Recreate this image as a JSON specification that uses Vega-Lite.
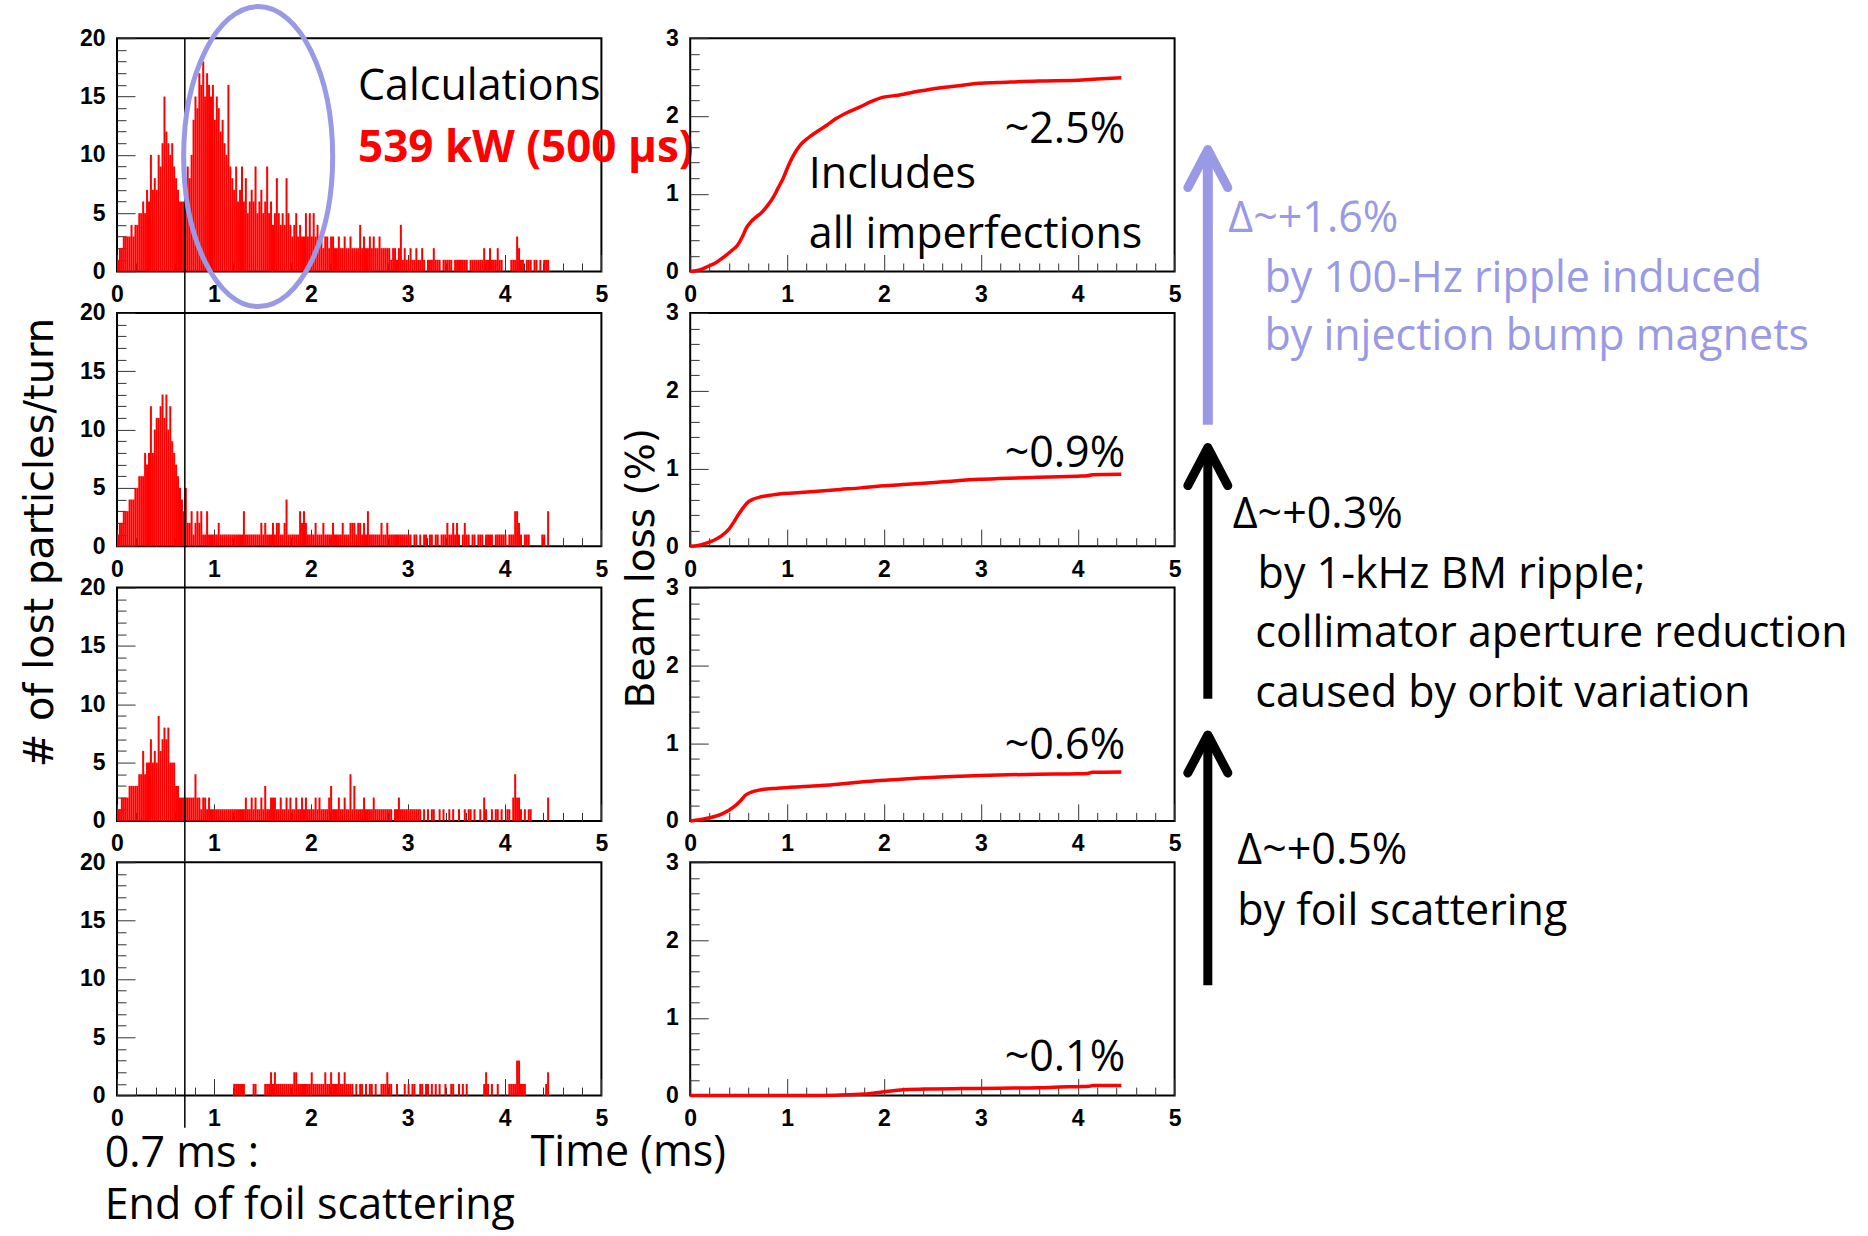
{
"$schema":"https://vega.github.io/schema/vega-lite/v6.json",
"usermeta":{"embedOptions":{"actions":false}},
"background":"white",
"padding":{"left":19,"top":-4.8,"right":0,"bottom":12},
"autosize":{"type":"pad"},
"config":{
 "view":{"stroke":"black","strokeWidth":2},
 "font":"Open Sans",
 "axis":{"domain":false,"grid":false,"ticks":true,"tickColor":"#333333","tickWidth":1,"labelFont":"Liberation Sans","labelFontWeight":"bold","labelFontSize":23,"labelColor":"black","labelFlush":false,"labelOverlap":false,"labelBound":false,"titleFontWeight":"normal","titleColor":"black"}
},
"datasets":{
"h1":[{"t":0.01,"n":1},{"t":0.03,"n":2},{"t":0.05,"n":2},{"t":0.07,"n":3},{"t":0.09,"n":3},{"t":0.11,"n":3},{"t":0.13,"n":3},{"t":0.15,"n":4},{"t":0.17,"n":3},{"t":0.19,"n":4},{"t":0.21,"n":4},{"t":0.23,"n":5},{"t":0.25,"n":5},{"t":0.27,"n":6},{"t":0.29,"n":5},{"t":0.31,"n":7},{"t":0.33,"n":6},{"t":0.35,"n":10},{"t":0.37,"n":7},{"t":0.39,"n":8},{"t":0.41,"n":7},{"t":0.43,"n":10},{"t":0.45,"n":9},{"t":0.47,"n":11},{"t":0.49,"n":15},{"t":0.51,"n":12},{"t":0.53,"n":11},{"t":0.55,"n":10},{"t":0.57,"n":11},{"t":0.59,"n":9},{"t":0.61,"n":8},{"t":0.63,"n":7},{"t":0.65,"n":6},{"t":0.67,"n":6},{"t":0.69,"n":6},{"t":0.71,"n":7},{"t":0.73,"n":9},{"t":0.75,"n":8},{"t":0.77,"n":10},{"t":0.79,"n":13},{"t":0.81,"n":15},{"t":0.83,"n":14},{"t":0.85,"n":17},{"t":0.87,"n":16},{"t":0.89,"n":18},{"t":0.91,"n":15},{"t":0.93,"n":17},{"t":0.95,"n":16},{"t":0.97,"n":15},{"t":0.99,"n":16},{"t":1.01,"n":13},{"t":1.03,"n":15},{"t":1.05,"n":14},{"t":1.07,"n":12},{"t":1.09,"n":13},{"t":1.11,"n":11},{"t":1.13,"n":10},{"t":1.15,"n":16},{"t":1.17,"n":9},{"t":1.19,"n":8},{"t":1.21,"n":7},{"t":1.23,"n":9},{"t":1.25,"n":6},{"t":1.27,"n":7},{"t":1.29,"n":9},{"t":1.31,"n":6},{"t":1.33,"n":8},{"t":1.35,"n":5},{"t":1.37,"n":6},{"t":1.39,"n":7},{"t":1.41,"n":6},{"t":1.43,"n":9},{"t":1.45,"n":5},{"t":1.47,"n":6},{"t":1.49,"n":7},{"t":1.51,"n":5},{"t":1.53,"n":6},{"t":1.55,"n":9},{"t":1.57,"n":5},{"t":1.59,"n":6},{"t":1.61,"n":4},{"t":1.63,"n":5},{"t":1.65,"n":8},{"t":1.67,"n":5},{"t":1.69,"n":4},{"t":1.71,"n":5},{"t":1.73,"n":4},{"t":1.75,"n":8},{"t":1.77,"n":5},{"t":1.79,"n":4},{"t":1.81,"n":3},{"t":1.83,"n":4},{"t":1.85,"n":5},{"t":1.87,"n":3},{"t":1.89,"n":4},{"t":1.91,"n":3},{"t":1.93,"n":3},{"t":1.95,"n":5},{"t":1.97,"n":3},{"t":1.99,"n":5},{"t":2.01,"n":3},{"t":2.03,"n":5},{"t":2.05,"n":3},{"t":2.07,"n":4},{"t":2.09,"n":3},{"t":2.11,"n":3},{"t":2.13,"n":2},{"t":2.15,"n":3},{"t":2.17,"n":3},{"t":2.19,"n":2},{"t":2.21,"n":3},{"t":2.23,"n":3},{"t":2.25,"n":2},{"t":2.27,"n":2},{"t":2.29,"n":3},{"t":2.31,"n":2},{"t":2.33,"n":2},{"t":2.35,"n":3},{"t":2.37,"n":2},{"t":2.39,"n":2},{"t":2.41,"n":3},{"t":2.43,"n":2},{"t":2.45,"n":2},{"t":2.47,"n":2},{"t":2.49,"n":2},{"t":2.51,"n":4},{"t":2.53,"n":2},{"t":2.55,"n":3},{"t":2.57,"n":2},{"t":2.59,"n":2},{"t":2.61,"n":3},{"t":2.63,"n":2},{"t":2.65,"n":3},{"t":2.67,"n":2},{"t":2.69,"n":2},{"t":2.71,"n":3},{"t":2.73,"n":2},{"t":2.75,"n":2},{"t":2.77,"n":2},{"t":2.79,"n":2},{"t":2.81,"n":2},{"t":2.83,"n":1},{"t":2.85,"n":2},{"t":2.87,"n":2},{"t":2.89,"n":1},{"t":2.91,"n":2},{"t":2.93,"n":4},{"t":2.95,"n":1},{"t":2.97,"n":2},{"t":2.99,"n":1},{"t":3.01,"n":1},{"t":3.03,"n":2},{"t":3.05,"n":1},{"t":3.07,"n":1},{"t":3.09,"n":2},{"t":3.11,"n":1},{"t":3.13,"n":1},{"t":3.15,"n":2},{"t":3.17,"n":1},{"t":3.21,"n":1},{"t":3.23,"n":1},{"t":3.25,"n":1},{"t":3.27,"n":2},{"t":3.29,"n":1},{"t":3.31,"n":1},{"t":3.33,"n":1},{"t":3.37,"n":1},{"t":3.39,"n":1},{"t":3.41,"n":1},{"t":3.43,"n":1},{"t":3.45,"n":1},{"t":3.49,"n":1},{"t":3.51,"n":1},{"t":3.53,"n":1},{"t":3.55,"n":1},{"t":3.57,"n":1},{"t":3.59,"n":1},{"t":3.61,"n":1},{"t":3.65,"n":1},{"t":3.67,"n":1},{"t":3.69,"n":1},{"t":3.71,"n":1},{"t":3.73,"n":1},{"t":3.75,"n":1},{"t":3.77,"n":1},{"t":3.79,"n":2},{"t":3.81,"n":1},{"t":3.83,"n":1},{"t":3.85,"n":2},{"t":3.87,"n":1},{"t":3.89,"n":1},{"t":3.91,"n":1},{"t":3.93,"n":2},{"t":3.95,"n":1},{"t":3.97,"n":1},{"t":4.07,"n":1},{"t":4.09,"n":1},{"t":4.11,"n":1},{"t":4.13,"n":3},{"t":4.15,"n":2},{"t":4.17,"n":1},{"t":4.19,"n":1},{"t":4.23,"n":1},{"t":4.25,"n":1},{"t":4.27,"n":1},{"t":4.31,"n":1},{"t":4.33,"n":1},{"t":4.37,"n":1},{"t":4.41,"n":1},{"t":4.43,"n":1},{"t":4.45,"n":1}],
"h2":[{"t":0.01,"n":1},{"t":0.03,"n":2},{"t":0.05,"n":2},{"t":0.07,"n":3},{"t":0.09,"n":3},{"t":0.11,"n":3},{"t":0.13,"n":4},{"t":0.15,"n":4},{"t":0.17,"n":4},{"t":0.19,"n":5},{"t":0.21,"n":5},{"t":0.23,"n":6},{"t":0.25,"n":6},{"t":0.27,"n":6},{"t":0.29,"n":8},{"t":0.31,"n":7},{"t":0.33,"n":8},{"t":0.35,"n":12},{"t":0.37,"n":8},{"t":0.39,"n":10},{"t":0.41,"n":11},{"t":0.43,"n":11},{"t":0.45,"n":12},{"t":0.47,"n":13},{"t":0.49,"n":11},{"t":0.51,"n":13},{"t":0.53,"n":10},{"t":0.55,"n":12},{"t":0.57,"n":9},{"t":0.59,"n":8},{"t":0.61,"n":7},{"t":0.63,"n":6},{"t":0.65,"n":5},{"t":0.67,"n":4},{"t":0.69,"n":3},{"t":0.71,"n":5},{"t":0.73,"n":2},{"t":0.75,"n":2},{"t":0.77,"n":3},{"t":0.79,"n":1},{"t":0.81,"n":2},{"t":0.83,"n":3},{"t":0.85,"n":2},{"t":0.87,"n":3},{"t":0.89,"n":1},{"t":0.91,"n":1},{"t":0.93,"n":3},{"t":0.95,"n":1},{"t":0.97,"n":1},{"t":0.99,"n":1},{"t":1.01,"n":1},{"t":1.03,"n":1},{"t":1.05,"n":2},{"t":1.07,"n":1},{"t":1.09,"n":1},{"t":1.11,"n":1},{"t":1.13,"n":1},{"t":1.15,"n":1},{"t":1.17,"n":1},{"t":1.19,"n":1},{"t":1.21,"n":1},{"t":1.23,"n":1},{"t":1.25,"n":1},{"t":1.27,"n":1},{"t":1.29,"n":1},{"t":1.31,"n":3},{"t":1.33,"n":1},{"t":1.35,"n":1},{"t":1.37,"n":1},{"t":1.39,"n":1},{"t":1.41,"n":1},{"t":1.43,"n":1},{"t":1.45,"n":1},{"t":1.47,"n":1},{"t":1.49,"n":2},{"t":1.51,"n":1},{"t":1.53,"n":2},{"t":1.55,"n":1},{"t":1.57,"n":1},{"t":1.59,"n":1},{"t":1.61,"n":2},{"t":1.63,"n":1},{"t":1.65,"n":2},{"t":1.67,"n":2},{"t":1.69,"n":1},{"t":1.71,"n":1},{"t":1.73,"n":2},{"t":1.75,"n":4},{"t":1.77,"n":1},{"t":1.79,"n":1},{"t":1.81,"n":1},{"t":1.83,"n":1},{"t":1.85,"n":1},{"t":1.87,"n":1},{"t":1.89,"n":3},{"t":1.91,"n":2},{"t":1.93,"n":3},{"t":1.95,"n":2},{"t":1.97,"n":1},{"t":1.99,"n":1},{"t":2.01,"n":1},{"t":2.03,"n":1},{"t":2.05,"n":2},{"t":2.07,"n":1},{"t":2.09,"n":1},{"t":2.11,"n":1},{"t":2.13,"n":2},{"t":2.15,"n":1},{"t":2.17,"n":1},{"t":2.19,"n":1},{"t":2.21,"n":1},{"t":2.23,"n":2},{"t":2.25,"n":1},{"t":2.27,"n":1},{"t":2.29,"n":1},{"t":2.31,"n":1},{"t":2.33,"n":2},{"t":2.35,"n":1},{"t":2.37,"n":1},{"t":2.39,"n":1},{"t":2.41,"n":2},{"t":2.43,"n":2},{"t":2.45,"n":2},{"t":2.47,"n":1},{"t":2.49,"n":2},{"t":2.51,"n":2},{"t":2.53,"n":1},{"t":2.55,"n":2},{"t":2.57,"n":1},{"t":2.59,"n":3},{"t":2.61,"n":1},{"t":2.63,"n":1},{"t":2.65,"n":1},{"t":2.67,"n":1},{"t":2.69,"n":1},{"t":2.71,"n":1},{"t":2.73,"n":2},{"t":2.75,"n":1},{"t":2.77,"n":1},{"t":2.79,"n":2},{"t":2.81,"n":1},{"t":2.83,"n":1},{"t":2.85,"n":1},{"t":2.87,"n":1},{"t":2.89,"n":1},{"t":2.91,"n":1},{"t":2.93,"n":1},{"t":2.95,"n":1},{"t":2.97,"n":1},{"t":2.99,"n":1},{"t":3.01,"n":1},{"t":3.03,"n":1},{"t":3.07,"n":1},{"t":3.09,"n":1},{"t":3.13,"n":1},{"t":3.17,"n":1},{"t":3.19,"n":1},{"t":3.23,"n":1},{"t":3.25,"n":1},{"t":3.29,"n":1},{"t":3.31,"n":1},{"t":3.35,"n":1},{"t":3.37,"n":1},{"t":3.39,"n":1},{"t":3.41,"n":2},{"t":3.43,"n":1},{"t":3.45,"n":1},{"t":3.47,"n":2},{"t":3.49,"n":1},{"t":3.51,"n":2},{"t":3.53,"n":1},{"t":3.57,"n":1},{"t":3.59,"n":2},{"t":3.61,"n":1},{"t":3.63,"n":1},{"t":3.67,"n":1},{"t":3.69,"n":1},{"t":3.73,"n":1},{"t":3.75,"n":1},{"t":3.77,"n":1},{"t":3.81,"n":1},{"t":3.83,"n":1},{"t":3.85,"n":1},{"t":3.87,"n":1},{"t":3.91,"n":1},{"t":3.93,"n":1},{"t":3.95,"n":1},{"t":3.97,"n":1},{"t":3.99,"n":1},{"t":4.01,"n":1},{"t":4.05,"n":1},{"t":4.07,"n":1},{"t":4.09,"n":1},{"t":4.11,"n":3},{"t":4.13,"n":3},{"t":4.15,"n":2},{"t":4.17,"n":1},{"t":4.21,"n":1},{"t":4.23,"n":1},{"t":4.25,"n":1},{"t":4.39,"n":1},{"t":4.41,"n":1},{"t":4.45,"n":3}],
"h3":[{"t":0.01,"n":1},{"t":0.03,"n":1},{"t":0.05,"n":2},{"t":0.07,"n":2},{"t":0.09,"n":2},{"t":0.11,"n":2},{"t":0.13,"n":3},{"t":0.15,"n":3},{"t":0.17,"n":3},{"t":0.19,"n":3},{"t":0.21,"n":3},{"t":0.23,"n":4},{"t":0.25,"n":4},{"t":0.27,"n":6},{"t":0.29,"n":4},{"t":0.31,"n":5},{"t":0.33,"n":5},{"t":0.35,"n":7},{"t":0.37,"n":5},{"t":0.39,"n":6},{"t":0.41,"n":5},{"t":0.43,"n":9},{"t":0.45,"n":6},{"t":0.47,"n":7},{"t":0.49,"n":8},{"t":0.51,"n":7},{"t":0.53,"n":8},{"t":0.55,"n":5},{"t":0.57,"n":5},{"t":0.59,"n":5},{"t":0.61,"n":3},{"t":0.63,"n":3},{"t":0.65,"n":2},{"t":0.67,"n":2},{"t":0.69,"n":2},{"t":0.71,"n":2},{"t":0.73,"n":2},{"t":0.75,"n":2},{"t":0.77,"n":2},{"t":0.79,"n":2},{"t":0.81,"n":4},{"t":0.83,"n":2},{"t":0.85,"n":2},{"t":0.87,"n":1},{"t":0.89,"n":2},{"t":0.91,"n":2},{"t":0.93,"n":1},{"t":0.95,"n":2},{"t":0.97,"n":1},{"t":0.99,"n":1},{"t":1.01,"n":1},{"t":1.03,"n":1},{"t":1.05,"n":1},{"t":1.07,"n":1},{"t":1.09,"n":1},{"t":1.11,"n":1},{"t":1.13,"n":1},{"t":1.15,"n":1},{"t":1.17,"n":1},{"t":1.19,"n":1},{"t":1.21,"n":1},{"t":1.23,"n":1},{"t":1.25,"n":1},{"t":1.27,"n":1},{"t":1.29,"n":1},{"t":1.31,"n":1},{"t":1.33,"n":2},{"t":1.35,"n":1},{"t":1.37,"n":1},{"t":1.39,"n":2},{"t":1.41,"n":1},{"t":1.43,"n":2},{"t":1.45,"n":1},{"t":1.47,"n":1},{"t":1.49,"n":2},{"t":1.51,"n":1},{"t":1.53,"n":3},{"t":1.55,"n":1},{"t":1.57,"n":1},{"t":1.59,"n":2},{"t":1.61,"n":2},{"t":1.63,"n":2},{"t":1.65,"n":1},{"t":1.67,"n":1},{"t":1.69,"n":2},{"t":1.71,"n":1},{"t":1.73,"n":1},{"t":1.75,"n":2},{"t":1.77,"n":1},{"t":1.79,"n":2},{"t":1.81,"n":1},{"t":1.83,"n":1},{"t":1.85,"n":2},{"t":1.87,"n":1},{"t":1.89,"n":1},{"t":1.91,"n":2},{"t":1.93,"n":1},{"t":1.95,"n":2},{"t":1.97,"n":1},{"t":1.99,"n":1},{"t":2.01,"n":1},{"t":2.03,"n":1},{"t":2.05,"n":2},{"t":2.07,"n":1},{"t":2.09,"n":2},{"t":2.11,"n":1},{"t":2.13,"n":1},{"t":2.15,"n":1},{"t":2.17,"n":1},{"t":2.19,"n":2},{"t":2.21,"n":3},{"t":2.23,"n":1},{"t":2.25,"n":1},{"t":2.27,"n":1},{"t":2.29,"n":2},{"t":2.31,"n":1},{"t":2.33,"n":1},{"t":2.35,"n":2},{"t":2.37,"n":1},{"t":2.39,"n":1},{"t":2.41,"n":4},{"t":2.43,"n":1},{"t":2.45,"n":3},{"t":2.47,"n":1},{"t":2.49,"n":1},{"t":2.51,"n":1},{"t":2.53,"n":1},{"t":2.55,"n":2},{"t":2.57,"n":1},{"t":2.59,"n":1},{"t":2.61,"n":1},{"t":2.63,"n":1},{"t":2.65,"n":2},{"t":2.67,"n":1},{"t":2.69,"n":1},{"t":2.71,"n":1},{"t":2.73,"n":1},{"t":2.75,"n":1},{"t":2.77,"n":1},{"t":2.79,"n":1},{"t":2.81,"n":1},{"t":2.83,"n":1},{"t":2.87,"n":1},{"t":2.89,"n":1},{"t":2.91,"n":2},{"t":2.93,"n":1},{"t":2.95,"n":1},{"t":2.97,"n":1},{"t":2.99,"n":1},{"t":3.01,"n":1},{"t":3.03,"n":1},{"t":3.05,"n":1},{"t":3.07,"n":1},{"t":3.09,"n":1},{"t":3.11,"n":1},{"t":3.13,"n":1},{"t":3.17,"n":1},{"t":3.21,"n":1},{"t":3.25,"n":1},{"t":3.27,"n":1},{"t":3.33,"n":1},{"t":3.37,"n":1},{"t":3.43,"n":1},{"t":3.47,"n":1},{"t":3.53,"n":1},{"t":3.59,"n":1},{"t":3.63,"n":1},{"t":3.65,"n":1},{"t":3.69,"n":1},{"t":3.75,"n":1},{"t":3.79,"n":2},{"t":3.81,"n":1},{"t":3.87,"n":1},{"t":3.91,"n":1},{"t":3.93,"n":1},{"t":3.97,"n":1},{"t":4.03,"n":1},{"t":4.05,"n":1},{"t":4.09,"n":2},{"t":4.11,"n":4},{"t":4.13,"n":2},{"t":4.15,"n":2},{"t":4.17,"n":1},{"t":4.21,"n":1},{"t":4.25,"n":1},{"t":4.27,"n":1},{"t":4.45,"n":2}],
"h4":[{"t":1.21,"n":1},{"t":1.23,"n":1},{"t":1.25,"n":1},{"t":1.27,"n":1},{"t":1.29,"n":1},{"t":1.31,"n":1},{"t":1.41,"n":1},{"t":1.43,"n":1},{"t":1.53,"n":1},{"t":1.55,"n":1},{"t":1.57,"n":1},{"t":1.59,"n":2},{"t":1.61,"n":1},{"t":1.63,"n":2},{"t":1.65,"n":1},{"t":1.67,"n":1},{"t":1.69,"n":1},{"t":1.71,"n":1},{"t":1.73,"n":1},{"t":1.75,"n":1},{"t":1.77,"n":1},{"t":1.79,"n":1},{"t":1.81,"n":1},{"t":1.83,"n":2},{"t":1.85,"n":2},{"t":1.87,"n":1},{"t":1.89,"n":1},{"t":1.91,"n":1},{"t":1.93,"n":1},{"t":1.95,"n":1},{"t":1.97,"n":1},{"t":1.99,"n":1},{"t":2.01,"n":2},{"t":2.03,"n":1},{"t":2.05,"n":1},{"t":2.07,"n":1},{"t":2.09,"n":1},{"t":2.11,"n":1},{"t":2.13,"n":1},{"t":2.15,"n":2},{"t":2.17,"n":1},{"t":2.19,"n":1},{"t":2.21,"n":2},{"t":2.23,"n":1},{"t":2.25,"n":1},{"t":2.27,"n":1},{"t":2.29,"n":2},{"t":2.31,"n":1},{"t":2.33,"n":1},{"t":2.35,"n":2},{"t":2.37,"n":1},{"t":2.39,"n":1},{"t":2.41,"n":1},{"t":2.43,"n":1},{"t":2.47,"n":1},{"t":2.51,"n":1},{"t":2.53,"n":1},{"t":2.57,"n":1},{"t":2.61,"n":1},{"t":2.63,"n":1},{"t":2.67,"n":1},{"t":2.73,"n":1},{"t":2.75,"n":1},{"t":2.77,"n":1},{"t":2.79,"n":2},{"t":2.81,"n":1},{"t":2.83,"n":1},{"t":2.89,"n":1},{"t":2.97,"n":1},{"t":3.01,"n":1},{"t":3.05,"n":1},{"t":3.07,"n":1},{"t":3.13,"n":1},{"t":3.15,"n":1},{"t":3.19,"n":1},{"t":3.21,"n":1},{"t":3.25,"n":1},{"t":3.29,"n":1},{"t":3.33,"n":1},{"t":3.39,"n":1},{"t":3.45,"n":1},{"t":3.47,"n":1},{"t":3.53,"n":1},{"t":3.57,"n":1},{"t":3.61,"n":1},{"t":3.79,"n":1},{"t":3.81,"n":2},{"t":3.83,"n":1},{"t":3.87,"n":1},{"t":3.93,"n":1},{"t":4.05,"n":1},{"t":4.07,"n":1},{"t":4.09,"n":1},{"t":4.11,"n":1},{"t":4.13,"n":3},{"t":4.15,"n":3},{"t":4.17,"n":1},{"t":4.19,"n":1},{"t":4.21,"n":1},{"t":4.43,"n":1},{"t":4.45,"n":2}],
"c1":[{"t":0,"v":0},{"t":0.1,"v":0.02},{"t":0.18,"v":0.064},{"t":0.26,"v":0.11},{"t":0.33,"v":0.17},{"t":0.42,"v":0.26},{"t":0.49,"v":0.34},{"t":0.54,"v":0.45},{"t":0.58,"v":0.56},{"t":0.62,"v":0.63},{"t":0.67,"v":0.69},{"t":0.73,"v":0.75},{"t":0.8,"v":0.85},{"t":0.86,"v":0.96},{"t":0.91,"v":1.08},{"t":0.96,"v":1.2},{"t":1.01,"v":1.35},{"t":1.06,"v":1.48},{"t":1.14,"v":1.63},{"t":1.22,"v":1.72},{"t":1.31,"v":1.8},{"t":1.41,"v":1.88},{"t":1.51,"v":1.97},{"t":1.63,"v":2.05},{"t":1.76,"v":2.12},{"t":1.86,"v":2.18},{"t":1.96,"v":2.23},{"t":2.16,"v":2.27},{"t":2.37,"v":2.32},{"t":2.57,"v":2.36},{"t":2.78,"v":2.39},{"t":2.98,"v":2.42},{"t":3.18,"v":2.43},{"t":3.59,"v":2.45},{"t":4.0,"v":2.46},{"t":4.2,"v":2.475},{"t":4.45,"v":2.49}],
"c2":[{"t":0,"v":0},{"t":0.08,"v":0.01},{"t":0.16,"v":0.037},{"t":0.25,"v":0.08},{"t":0.33,"v":0.14},{"t":0.4,"v":0.22},{"t":0.45,"v":0.31},{"t":0.5,"v":0.41},{"t":0.55,"v":0.5},{"t":0.6,"v":0.57},{"t":0.66,"v":0.61},{"t":0.73,"v":0.635},{"t":0.85,"v":0.66},{"t":0.94,"v":0.675},{"t":1.14,"v":0.69},{"t":1.35,"v":0.71},{"t":1.55,"v":0.73},{"t":1.76,"v":0.75},{"t":1.96,"v":0.775},{"t":2.17,"v":0.79},{"t":2.37,"v":0.805},{"t":2.58,"v":0.825},{"t":2.78,"v":0.845},{"t":2.98,"v":0.86},{"t":3.18,"v":0.87},{"t":3.59,"v":0.885},{"t":4.0,"v":0.9},{"t":4.1,"v":0.905},{"t":4.15,"v":0.92},{"t":4.45,"v":0.925}],
"c3":[{"t":0,"v":0},{"t":0.1,"v":0.015},{"t":0.2,"v":0.04},{"t":0.33,"v":0.09},{"t":0.45,"v":0.18},{"t":0.52,"v":0.26},{"t":0.57,"v":0.33},{"t":0.63,"v":0.37},{"t":0.73,"v":0.4},{"t":0.9,"v":0.42},{"t":1.14,"v":0.44},{"t":1.35,"v":0.455},{"t":1.55,"v":0.475},{"t":1.76,"v":0.5},{"t":1.96,"v":0.52},{"t":2.17,"v":0.535},{"t":2.37,"v":0.55},{"t":2.58,"v":0.565},{"t":2.78,"v":0.575},{"t":3.0,"v":0.585},{"t":3.18,"v":0.59},{"t":3.59,"v":0.6},{"t":4.0,"v":0.605},{"t":4.1,"v":0.61},{"t":4.15,"v":0.625},{"t":4.45,"v":0.63}],
"c4":[{"t":0,"v":0},{"t":1.2,"v":0},{"t":1.5,"v":0.005},{"t":1.8,"v":0.02},{"t":2.0,"v":0.05},{"t":2.2,"v":0.075},{"t":2.5,"v":0.085},{"t":2.8,"v":0.09},{"t":3.2,"v":0.095},{"t":3.6,"v":0.1},{"t":3.8,"v":0.11},{"t":4.0,"v":0.115},{"t":4.12,"v":0.12},{"t":4.16,"v":0.13},{"t":4.45,"v":0.13}]
},
"columns":2,
"spacing":{"row":40.7,"column":88.2},
"bounds":"flush",
"concat":[
{"width":484.4,"height":233.3,"resolve":{"axis":{"x":"independent","y":"independent"}},"layer":[
 {"data":{"name":"h1"},"mark":{"type":"bar","color":"#ff0000","width":2},
  "encoding":{"x":{"field":"t","type":"quantitative","scale":{"domain":[0,5],"nice":false,"padding":0},"axis":{"orient":"bottom","values":[0,1,2,3,4,5],"format":"d","tickSize":-17,"labelPadding":29,"labelOverlap":false,"labelFlush":false,"title":null}},
   "y":{"field":"n","type":"quantitative","scale":{"domain":[0,20],"nice":false},"axis":{"orient":"left","values":[0,5,10,15,20],"format":"d","tickSize":-18,"labelPadding":30,"labelOverlap":false,"title":null}}}},
 {"data":{"values":[{"t":0.7}]},"mark":{"type":"rule","color":"black","strokeWidth":1.5},
  "encoding":{"x":{"field":"t","type":"quantitative","scale":{"domain":[0,5],"nice":false,"padding":0},"axis":{"orient":"bottom","values":[0.2,0.4,0.6,0.8,1.2,1.4,1.6,1.8,2.2,2.4,2.6,2.8,3.2,3.4,3.6,3.8,4.2,4.4,4.6,4.8],"tickSize":-8.5,"labels":false,"title":null}},"y":{"datum":20,"type":"quantitative","scale":{"domain":[0,20],"nice":false},"axis":{"orient":"left","values":[1,2,3,4,6,7,8,9,11,12,13,14,16,17,18,19],"tickSize":-9,"labels":false,"title":null}},"y2":{"datum":-3.49}}},
 {"data":{"values":[{"t":1.457,"v":9.85}]},"mark":{"type":"point","shape":"M 0 -1 A 0.4967 1 0 1 1 0 1 A 0.4967 1 0 1 1 0 -1 Z","size":90000,"filled":false,"color":"#9999e6","strokeWidth":5,"opacity":1},
  "encoding":{"x":{"field":"t","type":"quantitative","scale":{"domain":[0,5],"nice":false,"padding":0},"axis":null},"y":{"field":"v","type":"quantitative","scale":{"domain":[0,20],"nice":false},"axis":null}}},
 {"data":{"values":[{"t":2.488,"v":14.71,"label":"Calculations"}]},"mark":{"type":"text","fontSize":43,"align":"left","baseline":"alphabetic","color":"black"},
  "encoding":{"x":{"field":"t","type":"quantitative","scale":{"domain":[0,5],"nice":false,"padding":0},"axis":null},"y":{"field":"v","type":"quantitative","scale":{"domain":[0,20],"nice":false},"axis":null},"text":{"field":"label"}}},
 {"data":{"values":[{"t":2.488,"v":9.42,"label":"539 kW (500 µs)"}]},"mark":{"type":"text","fontSize":44,"fontWeight":"bold","align":"left","baseline":"alphabetic","color":"#ff0000"},
  "encoding":{"x":{"field":"t","type":"quantitative","scale":{"domain":[0,5],"nice":false,"padding":0},"axis":null},"y":{"field":"v","type":"quantitative","scale":{"domain":[0,20],"nice":false},"axis":null},"text":{"field":"label"}}}
]},
{"width":484.4,"height":233.3,"resolve":{"axis":{"x":"independent","y":"independent"}},"layer":[
 {"data":{"name":"c1"},"mark":{"type":"line","color":"#ff0000","strokeWidth":3.5,"interpolate":"monotone"},
  "encoding":{"x":{"field":"t","type":"quantitative","scale":{"domain":[0,5],"nice":false},"axis":{"orient":"bottom","values":[0,1,2,3,4,5],"format":"d","tickSize":-17,"labelPadding":29,"labelOverlap":false,"labelFlush":false,"title":null}},
   "y":{"field":"v","type":"quantitative","scale":{"domain":[0,3],"nice":false},"axis":{"orient":"left","values":[0,1,2,3],"format":"d","tickSize":-18,"labelPadding":30,"labelOverlap":false,"title":null}}}},
 {"data":{"values":[{"t":4.49,"v":1.65,"label":"~2.5%"}]},"mark":{"type":"text","fontSize":43,"align":"right","baseline":"alphabetic","color":"black"},
  "encoding":{"x":{"field":"t","type":"quantitative","scale":{"domain":[0,5],"nice":false},"axis":{"orient":"bottom","values":[0.2,0.4,0.6,0.8,1.2,1.4,1.6,1.8,2.2,2.4,2.6,2.8,3.2,3.4,3.6,3.8,4.2,4.4,4.6,4.8],"tickSize":-8.5,"labels":false,"title":null}},"y":{"field":"v","type":"quantitative","scale":{"domain":[0,3],"nice":false},"axis":{"orient":"left","values":[0.2,0.4,0.6,0.8,1.2,1.4,1.6,1.8,2.2,2.4,2.6,2.8],"tickSize":-9,"labels":false,"title":null}},"text":{"field":"label"}}},
 {"data":{"values":[{"t":1.224,"v":1.075,"label":"Includes"},{"t":1.224,"v":0.304,"label":"all imperfections"}]},"mark":{"type":"text","fontSize":43,"align":"left","baseline":"alphabetic","color":"black"},
  "encoding":{"x":{"field":"t","type":"quantitative","scale":{"domain":[0,5],"nice":false},"axis":null},"y":{"field":"v","type":"quantitative","scale":{"domain":[0,3],"nice":false},"axis":null},"text":{"field":"label"}}},
 {"data":{"values":[{"t":5.343,"lo":-1.972,"hi":1.52}]},"mark":{"type":"rule","color":"#9999e6","strokeWidth":10},
  "encoding":{"x":{"field":"t","type":"quantitative","scale":{"domain":[0,5],"nice":false},"axis":null},"y":{"field":"lo","type":"quantitative","scale":{"domain":[0,3],"nice":false},"axis":null},"y2":{"field":"hi"}}},
 {"data":{"values":[{"t":5.343,"v":1.568}]},"mark":{"type":"point","shape":"M -0.526 1 L 0 0 L 0.526 1","size":5776,"filled":false,"color":"#9999e6","strokeWidth":9,"strokeCap":"round","strokeJoin":"round","opacity":1},
  "encoding":{"x":{"field":"t","type":"quantitative","scale":{"domain":[0,5],"nice":false},"axis":null},"y":{"field":"v","type":"quantitative","scale":{"domain":[0,3],"nice":false},"axis":null}}},
 {"data":{"values":[{"t":5.554,"v":0.513,"label":"Δ~+1.6%"},{"t":5.927,"v":-0.258,"label":"by 100-Hz ripple induced"},{"t":5.927,"v":-1.008,"label":"by injection bump magnets"}]},"mark":{"type":"text","fontSize":43,"align":"left","baseline":"alphabetic","color":"#9999e6"},
  "encoding":{"x":{"field":"t","type":"quantitative","scale":{"domain":[0,5],"nice":false},"axis":null},"y":{"field":"v","type":"quantitative","scale":{"domain":[0,3],"nice":false},"axis":null},"text":{"field":"label"}}}
]},
{"width":484.4,"height":233.3,"resolve":{"axis":{"x":"independent","y":"independent"}},"layer":[
 {"data":{"name":"h2"},"mark":{"type":"bar","color":"#ff0000","width":2},
  "encoding":{"x":{"field":"t","type":"quantitative","scale":{"domain":[0,5],"nice":false,"padding":0},"axis":{"orient":"bottom","values":[0,1,2,3,4,5],"format":"d","tickSize":-17,"labelPadding":29,"labelOverlap":false,"labelFlush":false,"title":null}},
   "y":{"field":"n","type":"quantitative","scale":{"domain":[0,20],"nice":false},"axis":{"orient":"left","values":[0,5,10,15,20],"format":"d","tickSize":-18,"labelPadding":30,"labelOverlap":false,"title":"# of lost particles/turn","titleFont":"DejaVu Sans","titleFontSize":40,"titleAngle":270,"titleAlign":"center","titleBaseline":"alphabetic","titleX":-64.3,"titleY":229.2}}}},
 {"data":{"values":[{"t":0.7}]},"mark":{"type":"rule","color":"black","strokeWidth":1.5},
  "encoding":{"x":{"field":"t","type":"quantitative","scale":{"domain":[0,5],"nice":false,"padding":0},"axis":{"orient":"bottom","values":[0.2,0.4,0.6,0.8,1.2,1.4,1.6,1.8,2.2,2.4,2.6,2.8,3.2,3.4,3.6,3.8,4.2,4.4,4.6,4.8],"tickSize":-8.5,"labels":false,"title":null}},"y":{"datum":20,"type":"quantitative","scale":{"domain":[0,20],"nice":false},"axis":{"orient":"left","values":[1,2,3,4,6,7,8,9,11,12,13,14,16,17,18,19],"tickSize":-9,"labels":false,"title":null}},"y2":{"datum":-3.49}}}
]},
{"width":484.4,"height":233.3,"resolve":{"axis":{"x":"independent","y":"independent"}},"layer":[
 {"data":{"name":"c2"},"mark":{"type":"line","color":"#ff0000","strokeWidth":3.5,"interpolate":"monotone"},
  "encoding":{"x":{"field":"t","type":"quantitative","scale":{"domain":[0,5],"nice":false},"axis":{"orient":"bottom","values":[0,1,2,3,4,5],"format":"d","tickSize":-17,"labelPadding":29,"labelOverlap":false,"labelFlush":false,"title":null}},
   "y":{"field":"v","type":"quantitative","scale":{"domain":[0,3],"nice":false},"axis":{"orient":"left","values":[0,1,2,3],"format":"d","tickSize":-18,"labelPadding":30,"labelOverlap":false,"title":"Beam loss (%)","titleFont":"DejaVu Sans","titleFontSize":39,"titleAngle":270,"titleAlign":"center","titleBaseline":"alphabetic","titleX":-36.4,"titleY":254.7}}}},
 {"data":{"values":[{"t":4.49,"v":1.02,"label":"~0.9%"}]},"mark":{"type":"text","fontSize":43,"align":"right","baseline":"alphabetic","color":"black"},
  "encoding":{"x":{"field":"t","type":"quantitative","scale":{"domain":[0,5],"nice":false},"axis":{"orient":"bottom","values":[0.2,0.4,0.6,0.8,1.2,1.4,1.6,1.8,2.2,2.4,2.6,2.8,3.2,3.4,3.6,3.8,4.2,4.4,4.6,4.8],"tickSize":-8.5,"labels":false,"title":null}},"y":{"field":"v","type":"quantitative","scale":{"domain":[0,3],"nice":false},"axis":{"orient":"left","values":[0.2,0.4,0.6,0.8,1.2,1.4,1.6,1.8,2.2,2.4,2.6,2.8],"tickSize":-9,"labels":false,"title":null}},"text":{"field":"label"}}},
 {"data":{"values":[{"t":5.343,"lo":-1.963,"hi":1.22}]},"mark":{"type":"rule","color":"black","strokeWidth":9},
  "encoding":{"x":{"field":"t","type":"quantitative","scale":{"domain":[0,5],"nice":false},"axis":null},"y":{"field":"lo","type":"quantitative","scale":{"domain":[0,3],"nice":false},"axis":null},"y2":{"field":"hi"}}},
 {"data":{"values":[{"t":5.343,"v":1.268}]},"mark":{"type":"point","shape":"M -0.526 1 L 0 0 L 0.526 1","size":5776,"filled":false,"color":"black","strokeWidth":9,"strokeCap":"round","strokeJoin":"round","opacity":1},
  "encoding":{"x":{"field":"t","type":"quantitative","scale":{"domain":[0,5],"nice":false},"axis":null},"y":{"field":"v","type":"quantitative","scale":{"domain":[0,3],"nice":false},"axis":null}}},
 {"data":{"values":[{"t":5.6,"v":0.239,"label":"Δ~+0.3%"},{"t":5.857,"v":-0.536,"label":"by 1-kHz BM ripple;"},{"t":5.833,"v":-1.29,"label":"collimator aperture reduction"},{"t":5.833,"v":-2.07,"label":"caused by orbit variation"}]},"mark":{"type":"text","fontSize":43,"align":"left","baseline":"alphabetic","color":"black"},
  "encoding":{"x":{"field":"t","type":"quantitative","scale":{"domain":[0,5],"nice":false},"axis":null},"y":{"field":"v","type":"quantitative","scale":{"domain":[0,3],"nice":false},"axis":null},"text":{"field":"label"}}}
]},
{"width":484.4,"height":233.3,"resolve":{"axis":{"x":"independent","y":"independent"}},"layer":[
 {"data":{"name":"h3"},"mark":{"type":"bar","color":"#ff0000","width":2},
  "encoding":{"x":{"field":"t","type":"quantitative","scale":{"domain":[0,5],"nice":false,"padding":0},"axis":{"orient":"bottom","values":[0,1,2,3,4,5],"format":"d","tickSize":-17,"labelPadding":29,"labelOverlap":false,"labelFlush":false,"title":null}},
   "y":{"field":"n","type":"quantitative","scale":{"domain":[0,20],"nice":false},"axis":{"orient":"left","values":[0,5,10,15,20],"format":"d","tickSize":-18,"labelPadding":30,"labelOverlap":false,"title":null}}}},
 {"data":{"values":[{"t":0.7}]},"mark":{"type":"rule","color":"black","strokeWidth":1.5},
  "encoding":{"x":{"field":"t","type":"quantitative","scale":{"domain":[0,5],"nice":false,"padding":0},"axis":{"orient":"bottom","values":[0.2,0.4,0.6,0.8,1.2,1.4,1.6,1.8,2.2,2.4,2.6,2.8,3.2,3.4,3.6,3.8,4.2,4.4,4.6,4.8],"tickSize":-8.5,"labels":false,"title":null}},"y":{"datum":20,"type":"quantitative","scale":{"domain":[0,20],"nice":false},"axis":{"orient":"left","values":[1,2,3,4,6,7,8,9,11,12,13,14,16,17,18,19],"tickSize":-9,"labels":false,"title":null}},"y2":{"datum":-3.49}}}
]},
{"width":484.4,"height":233.3,"resolve":{"axis":{"x":"independent","y":"independent"}},"layer":[
 {"data":{"name":"c3"},"mark":{"type":"line","color":"#ff0000","strokeWidth":3.5,"interpolate":"monotone"},
  "encoding":{"x":{"field":"t","type":"quantitative","scale":{"domain":[0,5],"nice":false},"axis":{"orient":"bottom","values":[0,1,2,3,4,5],"format":"d","tickSize":-17,"labelPadding":29,"labelOverlap":false,"labelFlush":false,"title":null}},
   "y":{"field":"v","type":"quantitative","scale":{"domain":[0,3],"nice":false},"axis":{"orient":"left","values":[0,1,2,3],"format":"d","tickSize":-18,"labelPadding":30,"labelOverlap":false,"title":null}}}},
 {"data":{"values":[{"t":4.49,"v":0.8,"label":"~0.6%"}]},"mark":{"type":"text","fontSize":43,"align":"right","baseline":"alphabetic","color":"black"},
  "encoding":{"x":{"field":"t","type":"quantitative","scale":{"domain":[0,5],"nice":false},"axis":{"orient":"bottom","values":[0.2,0.4,0.6,0.8,1.2,1.4,1.6,1.8,2.2,2.4,2.6,2.8,3.2,3.4,3.6,3.8,4.2,4.4,4.6,4.8],"tickSize":-8.5,"labels":false,"title":null}},"y":{"field":"v","type":"quantitative","scale":{"domain":[0,3],"nice":false},"axis":{"orient":"left","values":[0.2,0.4,0.6,0.8,1.2,1.4,1.6,1.8,2.2,2.4,2.6,2.8],"tickSize":-9,"labels":false,"title":null}},"text":{"field":"label"}}},
 {"data":{"values":[{"t":5.343,"lo":-2.114,"hi":1.05}]},"mark":{"type":"rule","color":"black","strokeWidth":9},
  "encoding":{"x":{"field":"t","type":"quantitative","scale":{"domain":[0,5],"nice":false},"axis":null},"y":{"field":"lo","type":"quantitative","scale":{"domain":[0,3],"nice":false},"axis":null},"y2":{"field":"hi"}}},
 {"data":{"values":[{"t":5.343,"v":1.105}]},"mark":{"type":"point","shape":"M -0.526 1 L 0 0 L 0.526 1","size":5776,"filled":false,"color":"black","strokeWidth":9,"strokeCap":"round","strokeJoin":"round","opacity":1},
  "encoding":{"x":{"field":"t","type":"quantitative","scale":{"domain":[0,5],"nice":false},"axis":null},"y":{"field":"v","type":"quantitative","scale":{"domain":[0,3],"nice":false},"axis":null}}},
 {"data":{"values":[{"t":5.647,"v":-0.549,"label":"Δ~+0.5%"},{"t":5.647,"v":-1.342,"label":"by foil scattering"}]},"mark":{"type":"text","fontSize":43,"align":"left","baseline":"alphabetic","color":"black"},
  "encoding":{"x":{"field":"t","type":"quantitative","scale":{"domain":[0,5],"nice":false},"axis":null},"y":{"field":"v","type":"quantitative","scale":{"domain":[0,3],"nice":false},"axis":null},"text":{"field":"label"}}}
]},
{"width":484.4,"height":233.3,"resolve":{"axis":{"x":"independent","y":"independent"}},"layer":[
 {"data":{"name":"h4"},"mark":{"type":"bar","color":"#ff0000","width":2},
  "encoding":{"x":{"field":"t","type":"quantitative","scale":{"domain":[0,5],"nice":false,"padding":0},"axis":{"orient":"bottom","values":[0,1,2,3,4,5],"format":"d","tickSize":-17,"labelPadding":29,"labelOverlap":false,"labelFlush":false,"title":["0.7 ms :","End of foil scattering"],"titleFont":"Open Sans","titleFontSize":43,"titleAngle":0,"titleAlign":"left","titleBaseline":"alphabetic","titleLineHeight":52,"titleX":-12.8,"titleY":71}},
   "y":{"field":"n","type":"quantitative","scale":{"domain":[0,20],"nice":false},"axis":{"orient":"left","values":[0,5,10,15,20],"format":"d","tickSize":-18,"labelPadding":30,"labelOverlap":false,"title":null}}}},
 {"data":{"values":[{"t":0.7}]},"mark":{"type":"rule","color":"black","strokeWidth":1.5},
  "encoding":{"x":{"field":"t","type":"quantitative","scale":{"domain":[0,5],"nice":false,"padding":0},"axis":{"orient":"bottom","values":[0.2,0.4,0.6,0.8,1.2,1.4,1.6,1.8,2.2,2.4,2.6,2.8,3.2,3.4,3.6,3.8,4.2,4.4,4.6,4.8],"tickSize":-8.5,"labels":false,"title":null}},"y":{"datum":20,"type":"quantitative","scale":{"domain":[0,20],"nice":false},"axis":{"orient":"left","values":[1,2,3,4,6,7,8,9,11,12,13,14,16,17,18,19],"tickSize":-9,"labels":false,"title":null}},"y2":{"datum":-2.75}}}
]},
{"width":484.4,"height":233.3,"resolve":{"axis":{"x":"independent","y":"independent"}},"layer":[
 {"data":{"name":"c4"},"mark":{"type":"line","color":"#ff0000","strokeWidth":3.5,"interpolate":"monotone"},
  "encoding":{"x":{"field":"t","type":"quantitative","scale":{"domain":[0,5],"nice":false},"axis":{"orient":"bottom","values":[0,1,2,3,4,5],"format":"d","tickSize":-17,"labelPadding":29,"labelOverlap":false,"labelFlush":false,"title":"Time (ms)","titleFont":"Open Sans","titleFontSize":43,"titleAngle":0,"titleAlign":"center","titleBaseline":"alphabetic","titleX":-62.4,"titleY":70}},
   "y":{"field":"v","type":"quantitative","scale":{"domain":[0,3],"nice":false},"axis":{"orient":"left","values":[0,1,2,3],"format":"d","tickSize":-18,"labelPadding":30,"labelOverlap":false,"title":null}}}},
 {"data":{"values":[{"t":4.49,"v":0.32,"label":"~0.1%"}]},"mark":{"type":"text","fontSize":43,"align":"right","baseline":"alphabetic","color":"black"},
  "encoding":{"x":{"field":"t","type":"quantitative","scale":{"domain":[0,5],"nice":false},"axis":{"orient":"bottom","values":[0.2,0.4,0.6,0.8,1.2,1.4,1.6,1.8,2.2,2.4,2.6,2.8,3.2,3.4,3.6,3.8,4.2,4.4,4.6,4.8],"tickSize":-8.5,"labels":false,"title":null}},"y":{"field":"v","type":"quantitative","scale":{"domain":[0,3],"nice":false},"axis":{"orient":"left","values":[0.2,0.4,0.6,0.8,1.2,1.4,1.6,1.8,2.2,2.4,2.6,2.8],"tickSize":-9,"labels":false,"title":null}},"text":{"field":"label"}}}
]}
]
}
